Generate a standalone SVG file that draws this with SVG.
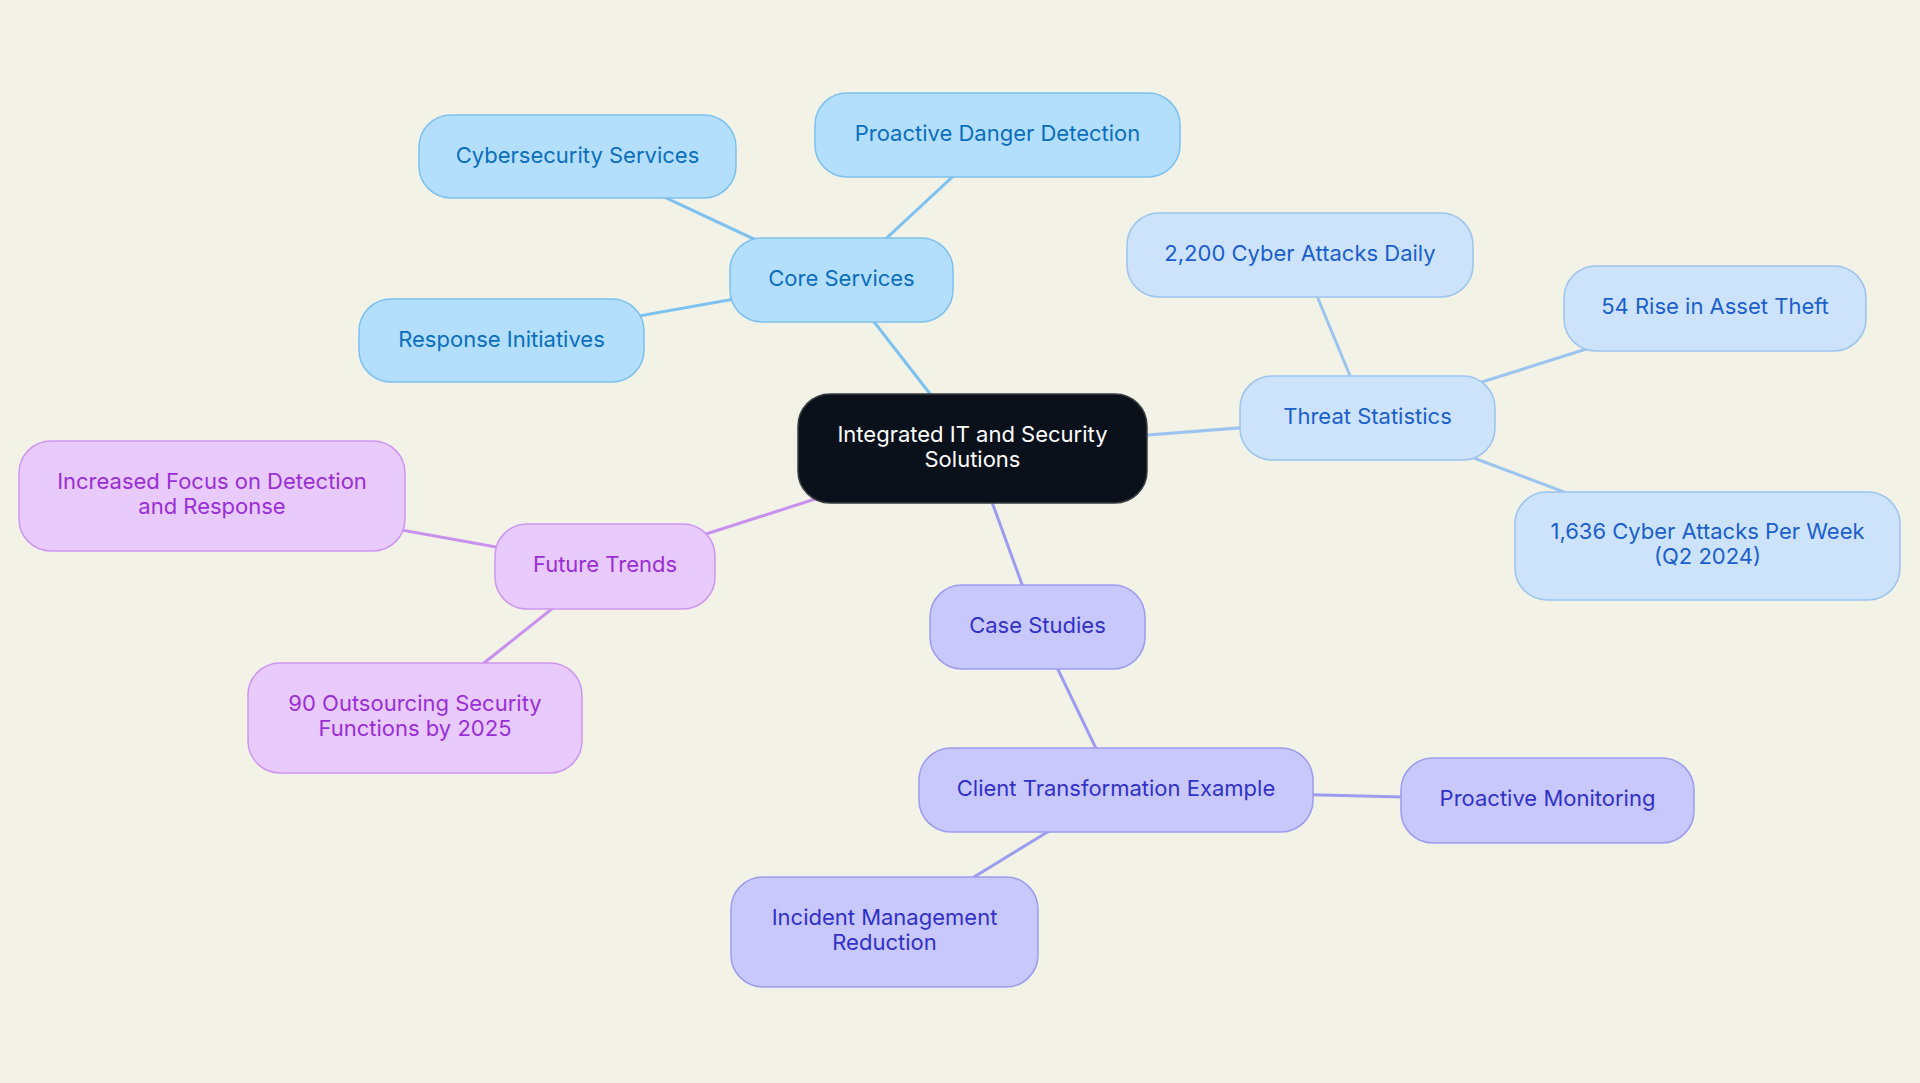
<svg xmlns="http://www.w3.org/2000/svg" width="1920" height="1083" viewBox="0 0 1920 1083">
<style>
.n text{font-family:Inter,"Noto Sans","Liberation Sans",sans-serif;font-size:22px;text-anchor:middle;dominant-baseline:central}
.blue rect{fill:#B3DFFD;stroke:#7DC1F0;stroke-width:1.5}
.blue text{fill:#0A6EBD}
.sky rect{fill:#CCE3FB;stroke:#9CC4F0;stroke-width:1.5}
.sky text{fill:#1A5FCC}
.purple rect{fill:#E8CAFC;stroke:#CE96F0;stroke-width:1.5}
.purple text{fill:#9A2ED6}
.indigo rect{fill:#C8C8FC;stroke:#9C9CF0;stroke-width:1.5}
.indigo text{fill:#3131C8}
.root rect{fill:#0B111B;stroke:#3A3D42;stroke-width:1.5}
.root text{fill:#FFFFFF}
.c line{stroke-width:3;stroke-linecap:round}
.cb{stroke:#7DC1F0}.cs{stroke:#9CC4F0}.cp{stroke:#C891EE}.ci{stroke:#9C9CF0}
</style>
<rect x="0" y="0" width="1920" height="1083" fill="#F2F2E6"/>
<g id="connectors" class="c">
<line class="cb" x1="972.5" y1="448.5" x2="841.5" y2="280"/>
<line class="cb" x1="841.5" y1="280" x2="997.5" y2="135"/>
<line class="cb" x1="841.5" y1="280" x2="577.5" y2="156.5"/>
<line class="cb" x1="841.5" y1="280" x2="501.5" y2="340.5"/>
<line class="cs" x1="972.5" y1="448.5" x2="1367.5" y2="418"/>
<line class="cs" x1="1367.5" y1="418" x2="1300" y2="255"/>
<line class="cs" x1="1367.5" y1="418" x2="1715" y2="308.5"/>
<line class="cs" x1="1367.5" y1="418" x2="1707.5" y2="546"/>
<line class="cp" x1="972.5" y1="448.5" x2="605" y2="566.5"/>
<line class="cp" x1="605" y1="566.5" x2="212" y2="496"/>
<line class="cp" x1="605" y1="566.5" x2="415" y2="718"/>
<line class="ci" x1="972.5" y1="448.5" x2="1037.5" y2="627"/>
<line class="ci" x1="1037.5" y1="627" x2="1116" y2="790"/>
<line class="ci" x1="1116" y1="790" x2="1547.5" y2="800.5"/>
<line class="ci" x1="1116" y1="790" x2="884.5" y2="932"/>
</g>
<g id="root" class="n root"><rect x="798" y="394" width="349" height="109" rx="32"/><text x="972.5" y="434">Integrated IT and Security</text><text x="972.5" y="459">Solutions</text></g>
<g id="core" class="n blue"><rect x="730" y="238" width="223" height="84" rx="32"/><text x="841.5" y="278">Core Services</text></g>
<g id="pdd" class="n blue"><rect x="815" y="93" width="365" height="84" rx="32"/><text x="997.5" y="133">Proactive Danger Detection</text></g>
<g id="cyber" class="n blue"><rect x="419" y="115" width="317" height="83" rx="32"/><text x="577.5" y="155">Cybersecurity Services</text></g>
<g id="resp" class="n blue"><rect x="359" y="299" width="285" height="83" rx="32"/><text x="501.5" y="339">Response Initiatives</text></g>
<g id="threat" class="n sky"><rect x="1240" y="376" width="255" height="84" rx="32"/><text x="1367.5" y="416">Threat Statistics</text></g>
<g id="daily" class="n sky"><rect x="1127" y="213" width="346" height="84" rx="32"/><text x="1300" y="253">2,200 Cyber Attacks Daily</text></g>
<g id="rise" class="n sky"><rect x="1564" y="266" width="302" height="85" rx="32"/><text x="1715" y="306">54 Rise in Asset Theft</text></g>
<g id="week" class="n sky"><rect x="1515" y="492" width="385" height="108" rx="32"/><text x="1707.5" y="531">1,636 Cyber Attacks Per Week</text><text x="1707.5" y="556">(Q2 2024)</text></g>
<g id="future" class="n purple"><rect x="495" y="524" width="220" height="85" rx="32"/><text x="605" y="564">Future Trends</text></g>
<g id="focus" class="n purple"><rect x="19" y="441" width="386" height="110" rx="32"/><text x="212" y="481">Increased Focus on Detection</text><text x="212" y="506">and Response</text></g>
<g id="outsourcing" class="n purple"><rect x="248" y="663" width="334" height="110" rx="32"/><text x="415" y="703">90 Outsourcing Security</text><text x="415" y="728">Functions by 2025</text></g>
<g id="case" class="n indigo"><rect x="930" y="585" width="215" height="84" rx="32"/><text x="1037.5" y="625">Case Studies</text></g>
<g id="client" class="n indigo"><rect x="919" y="748" width="394" height="84" rx="32"/><text x="1116" y="788">Client Transformation Example</text></g>
<g id="monitor" class="n indigo"><rect x="1401" y="758" width="293" height="85" rx="32"/><text x="1547.5" y="798">Proactive Monitoring</text></g>
<g id="incident" class="n indigo"><rect x="731" y="877" width="307" height="110" rx="32"/><text x="884.5" y="917">Incident Management</text><text x="884.5" y="942">Reduction</text></g>
</svg>
